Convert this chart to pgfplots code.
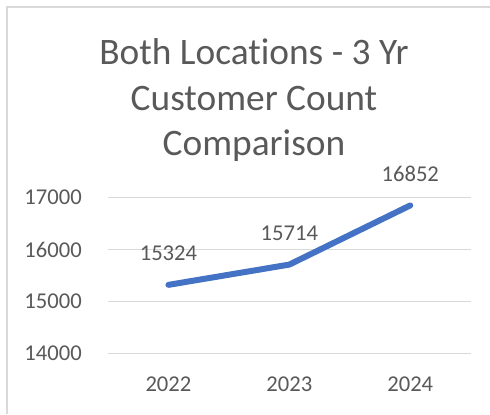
\documentclass[border=0pt]{standalone}
\usepackage{pgfplots}
\pgfplotsset{compat=1.18}
\usepackage{fontspec}
\setmainfont{Carlito}[Ligatures={NoCommon,NoContextual}]
\definecolor{txt}{HTML}{595959}
\definecolor{grd}{HTML}{D9D9D9}
\definecolor{ln}{HTML}{4472C4}
\begin{document}
\begin{tikzpicture}[x=1bp,y=1bp]
\useasboundingbox (0,0) rectangle (490,414);
\draw[grd, line width=1.5bp] (7,0) -- (7,407) -- (490,407);
\node[txt, font=\fontsize{37.5}{44}\selectfont, anchor=base] at (254,350) {Both Locations - 3 Yr};
\node[txt, font=\fontsize{37.5}{44}\selectfont, anchor=base] at (254,304) {Customer Count};
\node[txt, font=\fontsize{37.5}{44}\selectfont, anchor=base] at (254,259) {Comparison};
\begin{axis}[
  at={(108bp,60.3bp)}, anchor=south west,
  scale only axis, width=362.7bp, height=156bp,
  xmin=-0.5, xmax=2.5, ymin=14000, ymax=17000,
  xtick={0,1,2}, xticklabels={2022,2023,2024},
  ytick={14000,15000,16000,17000},
  scaled ticks=false,
  axis line style={draw=none},
  major tick length=0pt,
  ymajorgrids, grid style={grd, line width=1.2bp},
  /pgf/number format/assume math mode=true,
  /pgf/number format/1000 sep={},
  tick label style={txt, font=\fontsize{22.7}{27}\selectfont, inner sep=0pt},
  xticklabel style={anchor=base, yshift=-38bp},
  yticklabel style={anchor=east, xshift=-26bp},
  nodes near coords,
  every node near coord/.append style={txt, font=\fontsize{22.7}{27}\selectfont, anchor=base, inner sep=0pt, yshift=24bp,
    /pgf/number format/assume math mode=true, /pgf/number format/1000 sep={}},
  clip=false,
]
\addplot[ln, line width=6bp, line cap=round, line join=round, mark=none] coordinates {(0,15324) (1,15714) (2,16852)};
\end{axis}
\end{tikzpicture}
\end{document}
